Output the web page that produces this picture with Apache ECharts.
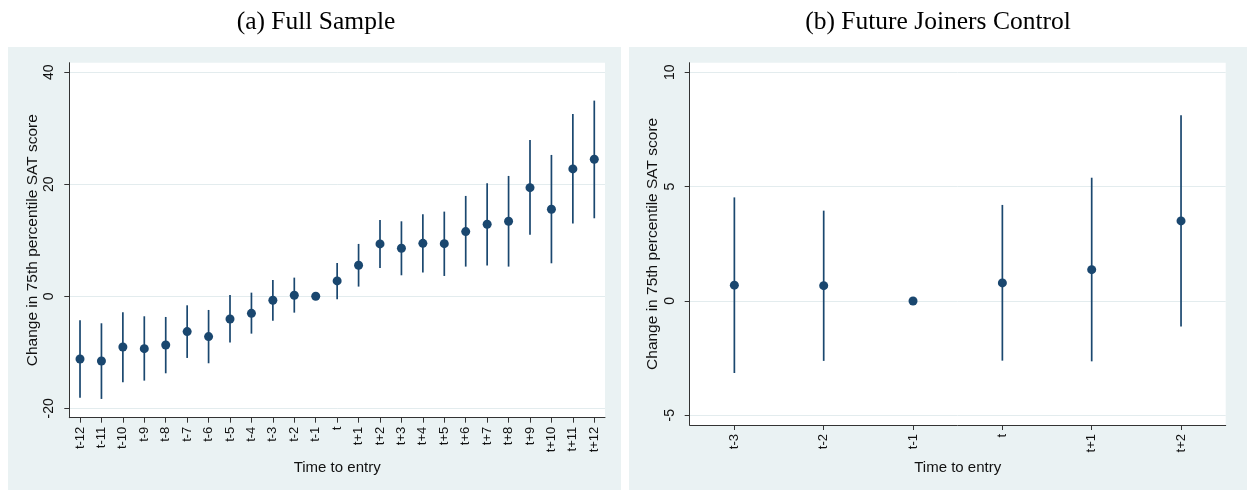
<!DOCTYPE html>
<html><head><meta charset="utf-8">
<script src="https://cdn.jsdelivr.net/npm/echarts@6/dist/echarts.min.js"></script>
<style>html,body{margin:0;padding:0;background:#fff}#c{width:1247px;height:490px}</style>
</head><body><div id="c"></div>
<script>
// Panel (a) Full Sample
const catsA = ['t-12','t-11','t-10','t-9','t-8','t-7','t-6','t-5','t-4','t-3','t-2','t-1','t','t+1','t+2','t+3','t+4','t+5','t+6','t+7','t+8','t+9','t+10','t+11','t+12'];
const estA = [-11.19,-11.55,-9.05,-9.35,-8.69,-6.31,-7.20,-4.05,-3.04,-0.71,0.18,0,2.74,5.54,9.35,8.57,9.46,9.40,11.55,12.86,13.39,19.40,15.54,22.74,24.46];
const loA  = [-18.10,-18.33,-15.36,-15.06,-13.75,-11.01,-11.96,-8.27,-6.67,-4.35,-2.92,null,-0.54,1.73,5.06,3.75,4.23,3.63,5.30,5.48,5.30,11.01,5.89,12.98,13.93];
const hiA  = [-4.29,-4.82,-2.86,-3.57,-3.69,-1.61,-2.44,0.24,0.65,2.92,3.33,null,5.95,9.35,13.63,13.39,14.64,15.12,17.92,20.18,21.49,27.92,25.24,32.56,34.94];
const ticksA = [-20,0,20,40];
// Panel (b) Future Joiners Control
const catsB = ['t-3','t-2','t-1','t','t+1','t+2'];
const estB = [0.69,0.67,0,0.79,1.37,3.50];
const loB  = [-3.15,-2.62,null,-2.61,-2.64,-1.12];
const hiB  = [4.53,3.95,null,4.20,5.39,8.12];
const ticksB = [-5,0,5,10];

const titleA = '(a) Full Sample';
const titleB = '(b) Future Joiners Control';
const yName = 'Change in 75th percentile SAT score';
const xName = 'Time to entry';

const NAVY = '#1a476f';
const BG = '#eaf2f3';
const GRIDC = '#e3ecee';
const SANS = 'Liberation Sans, Arial, sans-serif';

function ciRows(lo, hi) {
  return lo.map((l, i) => [i, l, hi[i]]);
}
function errRender(params, api) {
  const l = api.value(1), h = api.value(2);
  if (l == null || h == null || isNaN(l) || isNaN(h)) return null;
  const p1 = api.coord([api.value(0), l]);
  const p2 = api.coord([api.value(0), h]);
  return {type: 'line', shape: {x1: p1[0], y1: p1[1], x2: p2[0], y2: p2[1]},
          style: {stroke: NAVY, lineWidth: 1.7}};
}
function yAxisCfg(gi, mn, mx, ticks, gap) {
  return {
    type: 'value', gridIndex: gi, min: mn, max: mx,
    name: yName, nameLocation: 'middle', nameGap: gap, nameRotate: 90,
    nameTextStyle: {fontFamily: SANS, fontSize: 15.5, color: '#111'},
    axisLine: {show: true, onZero: false, lineStyle: {color: '#333', width: 1}},
    axisTick: {show: true, length: 5, customValues: ticks, lineStyle: {color: '#333'}},
    axisLabel: {customValues: ticks, rotate: 90, margin: 13, fontFamily: SANS, fontSize: 14, color: '#111'},
    splitLine: {show: true, lineStyle: {color: GRIDC, width: 1}}
  };
}
function xAxisCfg(gi, cats, gap) {
  return {
    type: 'category', gridIndex: gi, data: cats, boundaryGap: true,
    name: xName, nameLocation: 'middle', nameGap: gap,
    nameTextStyle: {fontFamily: SANS, fontSize: 15, color: '#111'},
    axisLine: {show: true, onZero: false, lineStyle: {color: '#333', width: 1}},
    axisTick: {show: true, length: 5, alignWithLabel: true, lineStyle: {color: '#333'}},
    axisLabel: {rotate: 90, margin: 9, interval: 0, fontFamily: SANS, fontSize: 13, color: '#111'},
    splitLine: {show: false}
  };
}

const chart = echarts.init(document.getElementById('c'), null, {renderer: 'canvas'});
chart.setOption({
  animation: false,
  backgroundColor: '#fff',
  graphic: [
    {type: 'rect', z: -10, shape: {x: 8, y: 47, width: 613, height: 443}, style: {fill: BG}},
    {type: 'rect', z: -10, shape: {x: 629, y: 47, width: 618, height: 443}, style: {fill: BG}}
  ],
  title: [
    {text: titleA, left: 311, top: 4, textAlign: 'center',
     textStyle: {fontFamily: 'Liberation Serif, Times New Roman, serif', fontSize: 25.5, fontWeight: 'normal', color: '#000'}},
    {text: titleB, left: 933, top: 4, textAlign: 'center',
     textStyle: {fontFamily: 'Liberation Serif, Times New Roman, serif', fontSize: 25.5, fontWeight: 'normal', color: '#000'}}
  ],
  grid: [
    {left: 69.3, top: 62.7, width: 535.7, height: 355, show: true, backgroundColor: '#fff', borderWidth: 0},
    {left: 689.7, top: 62.7, width: 536, height: 362.3, show: true, backgroundColor: '#fff', borderWidth: 0}
  ],
  xAxis: [xAxisCfg(0, catsA, 38), xAxisCfg(1, catsB, 31)],
  yAxis: [yAxisCfg(0, -21.68, 41.71, ticksA, 29), yAxisCfg(1, -5.424, 10.42, ticksB, 29)],
  series: [
    {type: 'custom', xAxisIndex: 0, yAxisIndex: 0, renderItem: errRender,
     encode: {x: 0, y: [1, 2]}, data: ciRows(loA, hiA), z: 2},
    {type: 'scatter', xAxisIndex: 0, yAxisIndex: 0, data: estA, symbol: 'circle', symbolSize: 9,
     itemStyle: {color: NAVY, opacity: 1}, z: 3},
    {type: 'custom', xAxisIndex: 1, yAxisIndex: 1, renderItem: errRender,
     encode: {x: 0, y: [1, 2]}, data: ciRows(loB, hiB), z: 2},
    {type: 'scatter', xAxisIndex: 1, yAxisIndex: 1, data: estB, symbol: 'circle', symbolSize: 9,
     itemStyle: {color: NAVY, opacity: 1}, z: 3}
  ]
});
</script>
</body></html>
